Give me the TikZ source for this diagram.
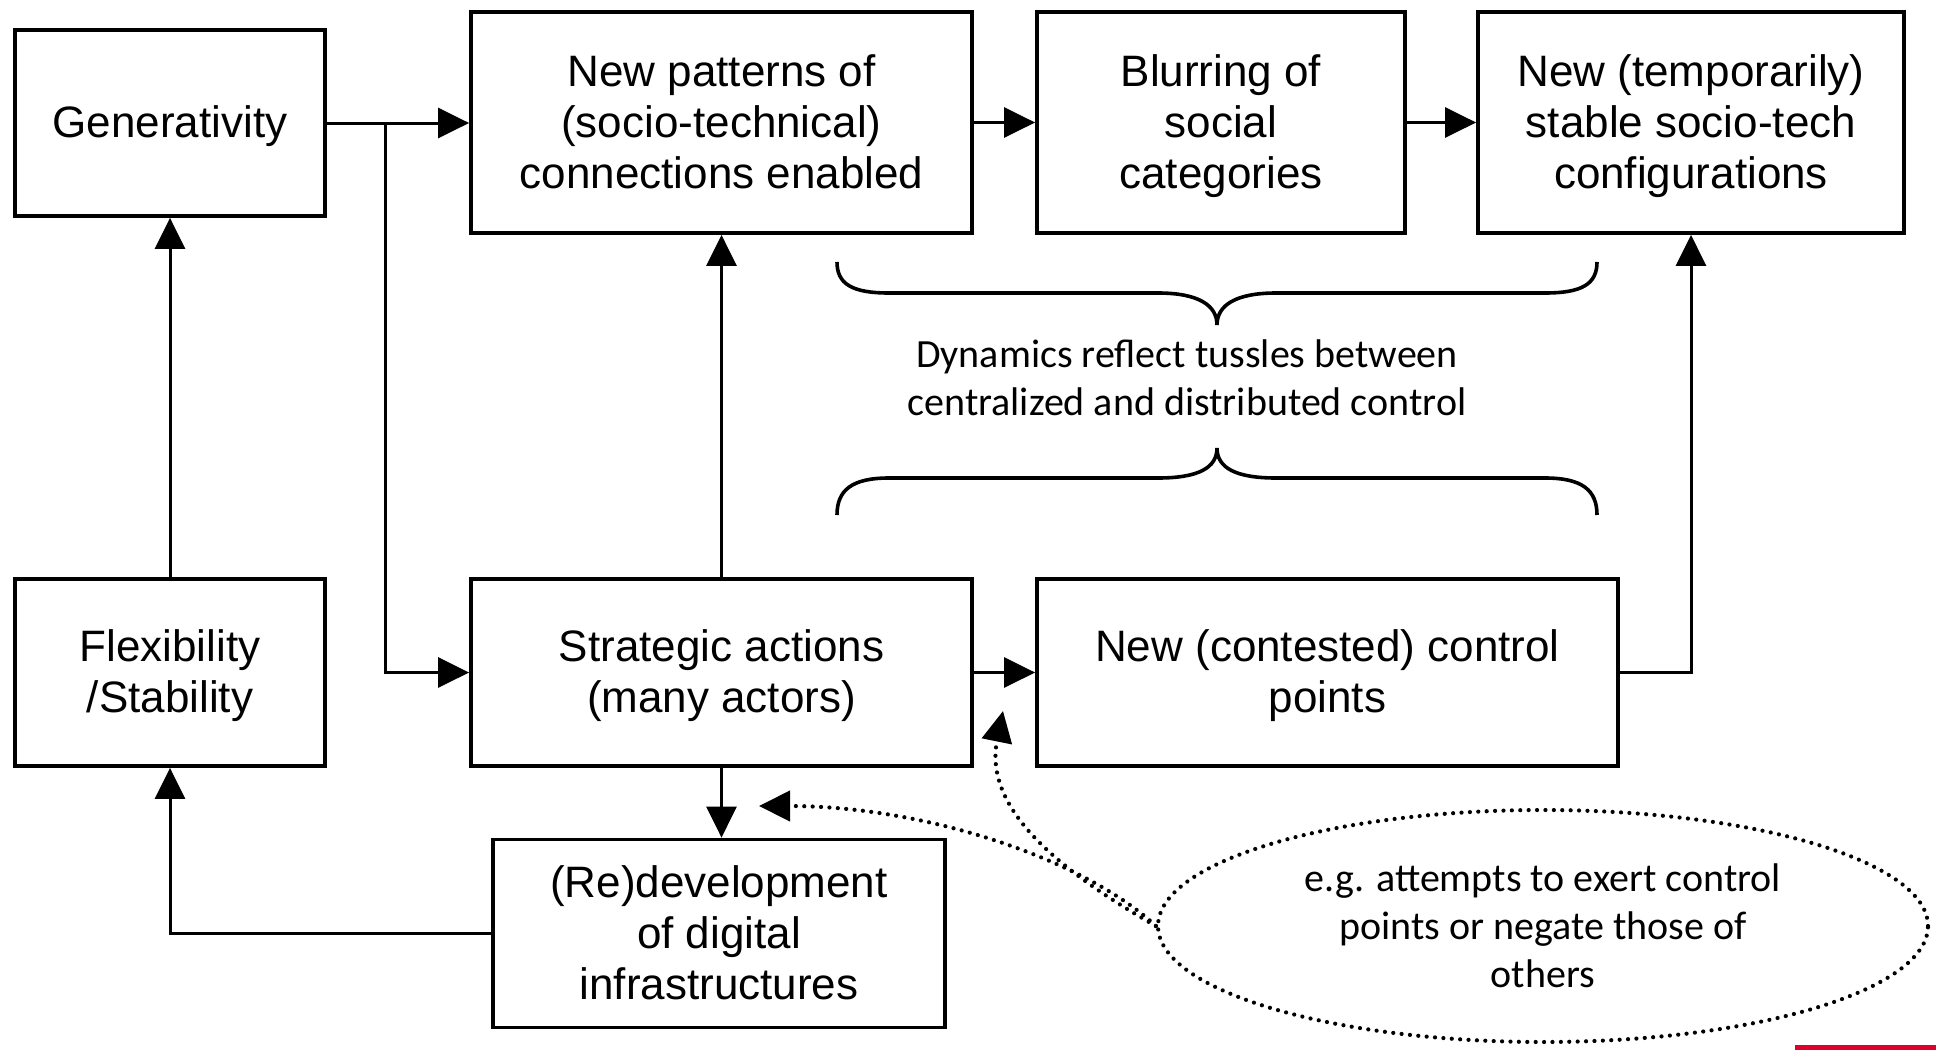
\documentclass[tikz,border=0pt]{standalone}
\usepackage{fontspec}
\setmainfont{Liberation Sans}
\newfontfamily\notefont{Carlito}
\usetikzlibrary{arrows.meta,shapes.geometric}
\definecolor{slidered}{RGB}{222,0,45}
% fixed line extents so every box centres its lines the same way
\newcommand\tstrut{\rule{0pt}{39pt}}
\newcommand\bstrut{\rule[-10pt]{0pt}{10pt}}

\begin{document}
\begin{tikzpicture}[x=1pt,y=-1pt,
  box/.style={draw, line width=3.8pt, inner sep=0pt, align=center,
    font=\fontsize{44}{51}\selectfont},
  head/.style={-{Triangle[length=31pt,width=30pt]}},
  link/.style={line width=3pt, head},
  plain/.style={line width=3.6pt},
  dots/.style={line width=4.2pt, line cap=round, dash pattern=on 0pt off 8.4pt},
  note/.style={font=\notefont\fontsize{40}{48}\selectfont, align=center},
]
\fill[white] (0,0) rectangle (1936,1050);
\useasboundingbox (0,0) rectangle (1936,1050);

% boxes
\node[box, minimum width=310pt, minimum height=186pt] (gen) at (170,123) {\tstrut Generativity\bstrut};
\node[box, minimum width=501pt, minimum height=221pt] (np) at (721.5,122.5) {\tstrut New patterns of\\(socio-technical)\\connections enabled\bstrut};
\node[box, minimum width=368pt, minimum height=221pt] (blur) at (1221,122.5) {\tstrut Blurring of\\social\\categories\bstrut};
\node[box, minimum width=426pt, minimum height=221pt] (stab) at (1691,122.5) {\tstrut New (temporarily)\\stable socio-tech\\configurations\bstrut};
\node[box, minimum width=310pt, minimum height=187pt] (flex) at (170,672.5) {\tstrut Flexibility\\/Stability\bstrut};
\node[box, minimum width=501pt, minimum height=187pt] (strat) at (721.5,672.5) {\tstrut Strategic actions\\(many actors)\bstrut};
\node[box, minimum width=581pt, minimum height=187pt] (ctrl) at (1327.5,672.5) {\tstrut New (contested) control\\points\bstrut};
\node[box, minimum width=452pt, minimum height=188pt] (redev) at (719,933.5) {\tstrut (Re)development\\of digital\\infrastructures\bstrut};

% dotted note
\node[ellipse, draw, dots, inner sep=0pt, minimum width=770pt, minimum height=232pt, note] (ann) at (1543,926)
  {e.g. attempts to exert control\\points or negate those of\\others};

% text between the braces
\node[note] (dyn) at (1187,378) {Dynamics reflect tussles between\\centralized and distributed control};

% braces
\draw[plain] (837,262) .. controls (837,284) and (852,293) .. (889,293) -- (1158,293)
  .. controls (1198,293) and (1217,305) .. (1217,325)
  .. controls (1217,305) and (1236,293) .. (1276,293) -- (1545,293)
  .. controls (1582,293) and (1597,284) .. (1597,262);
\draw[plain] (837,515) .. controls (837,490) and (852,478) .. (889,478) -- (1158,478)
  .. controls (1198,478) and (1217,468) .. (1217,448)
  .. controls (1217,468) and (1236,478) .. (1276,478) -- (1545,478)
  .. controls (1582,478) and (1597,490) .. (1597,515);

% solid connectors
\coordinate (split) at (385,0);
\draw[link] (gen.east) -- (gen.east -| np.west);
\draw[link] (split |- gen.east) |- (strat.west);
\draw[link] (np.east) -- (blur.west);
\draw[link] (blur.east) -- (stab.west);
\draw[link] (flex.north) -- (gen.south);
\draw[link] (strat.north) -- (np.south);
\draw[link] (strat.east) -- (ctrl.west);
\draw[link] (strat.south) -- (strat.south |- redev.north);
\draw[link] (ctrl.east) -| (stab.south);
\draw[link] (redev.west) -| (flex.south);

% dotted connectors from the note
\coordinate (tipA) at (759,806);
\coordinate (tipB) at (1003,711);
\draw[dots, head] (ann.west) .. controls (1088,862) and (930,806) .. (tipA);
\draw[dots, head] (ann.west) .. controls (1040,860) and (985,800) .. (tipB);

% red rule in the corner
\fill[slidered] (1795,1045) rectangle (1936,1050);
\end{tikzpicture}
\end{document}
